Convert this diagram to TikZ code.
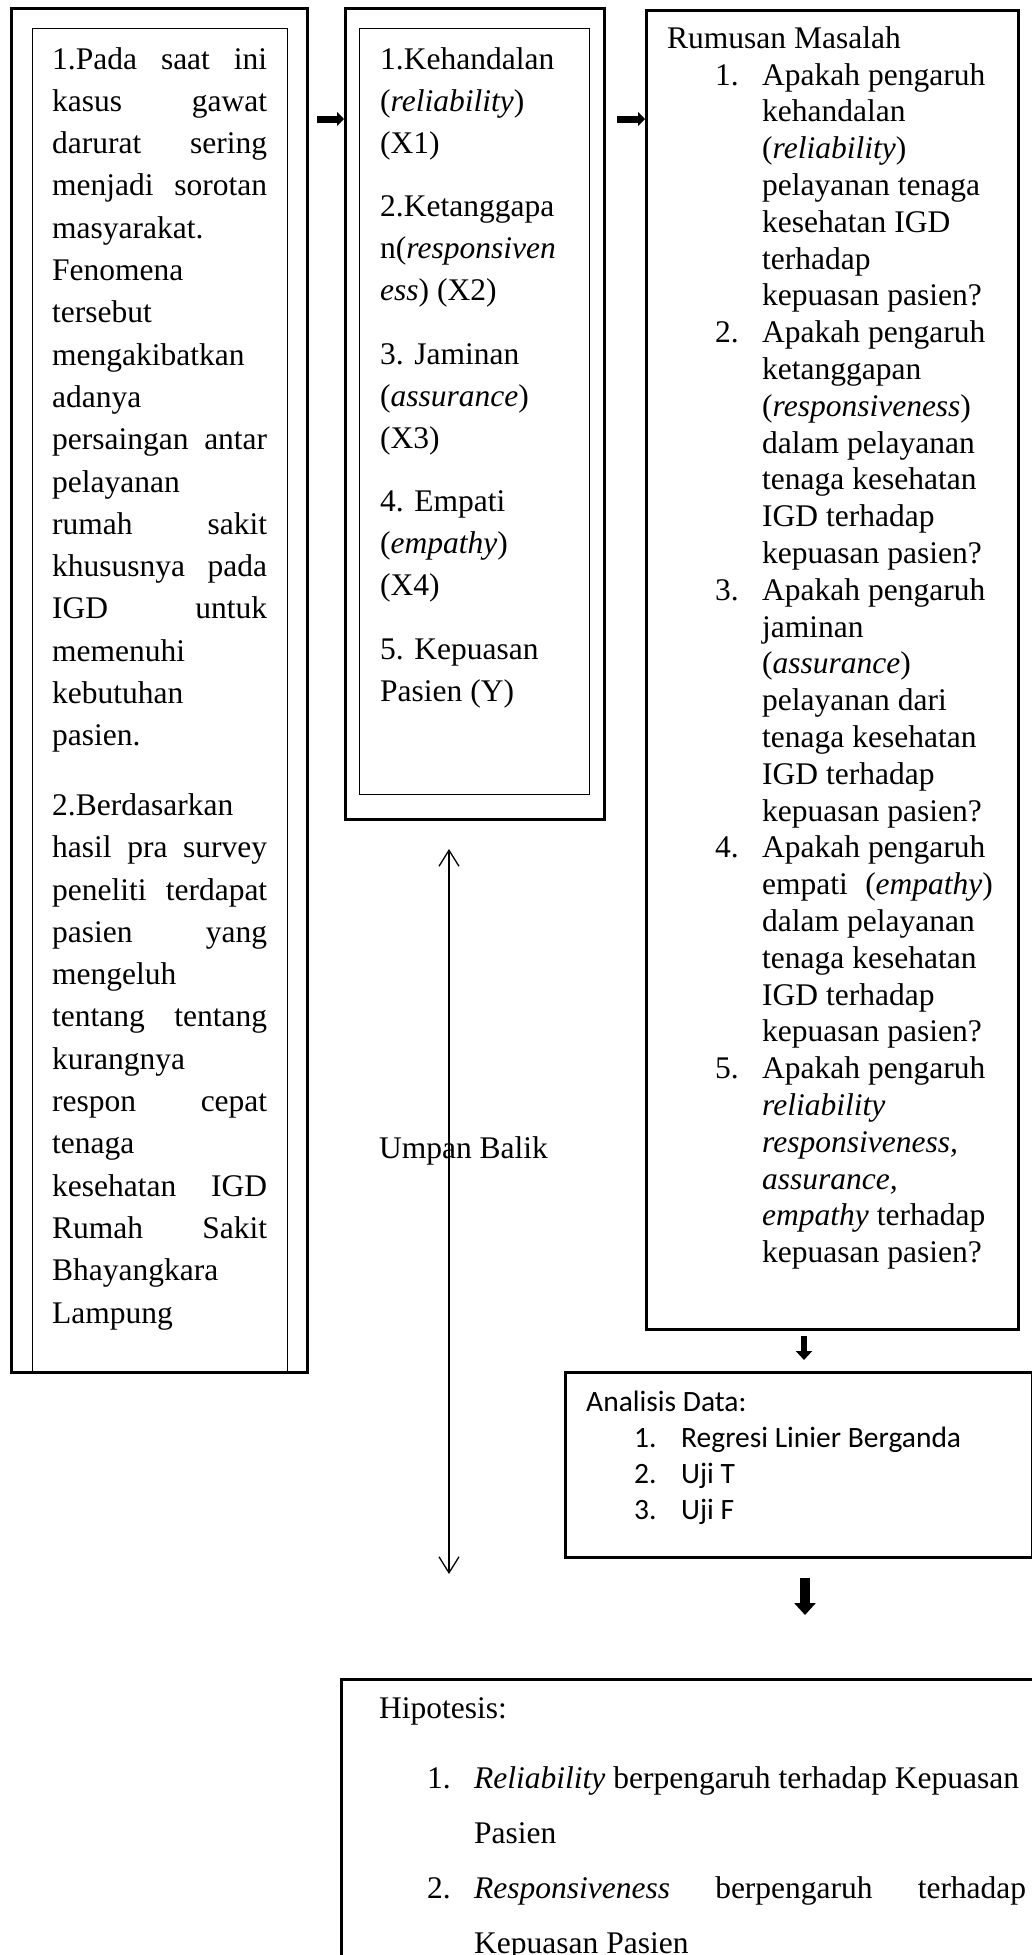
\documentclass[tikz,border=0pt]{standalone}
\usepackage{fontspec}
\setmainfont{Liberation Serif}
\newfontfamily\calibri{Carlito}
\usetikzlibrary{arrows.meta}
\newcommand\blk[4]{\vtop{\hsize=#1\parindent=0pt\parskip=0pt\lineskiplimit=-200pt\lineskip=0pt\fontsize{#2}{#3}\selectfont #4\par}}
\newcommand\jl[2][215pt]{\makebox[#1][s]{#2}\par}
\newcommand\itf[2]{\hspace*{48pt}\makebox[47pt][l]{#1}#2\par}
\newcommand\itc[1]{\hspace*{95pt}#1\par}
\begin{document}
\begin{tikzpicture}[x=1pt,y=-1pt,
  thickbox/.style={draw,line width=2.6pt,inner sep=0pt,anchor=north west},
  thinbox/.style={draw,line width=1.2pt,inner sep=0pt,anchor=north west},
  txt/.style={inner sep=0pt,anchor=base west},
  fatright/.style={line width=7pt,-{Triangle[length=7pt,width=14pt]}},
  fatdown/.style={line width=6pt,-{Triangle[length=9pt,width=16pt]}},
  bigdown/.style={line width=10pt,-{Triangle[length=12pt,width=21pt]}},
  feedback/.style={line width=1.3pt,{Straight Barb[length=16pt,width=20pt]}-{Straight Barb[length=16pt,width=20pt]}}]
\fill[white] (0,0) rectangle (1032,1955);
\clip (0,0) rectangle (1032,1955);
% boxes
\node[thickbox,minimum width=296pt,minimum height=1364pt] (lo) at (10,7) {};
\node[thinbox,minimum width=255pt,minimum height=1343pt] (li) at (32,28) {};
\node[thickbox,minimum width=259pt,minimum height=811pt] (mo) at (344,7) {};
\node[thinbox,minimum width=230pt,minimum height=766pt] (mi) at (359,28) {};
\node[thickbox,minimum width=372pt,minimum height=1319pt] (rum) at (645,9) {};
\node[thickbox,minimum width=467pt,minimum height=185pt] (ana) at (564,1371) {};
\node[thickbox,minimum width=730pt,minimum height=320pt] (hip) at (340,1678) {};
% left text
\node[txt] (lt) at (52,69) {\blk{215pt}{31.5}{42.3}{%
\jl{1.Pada saat ini}
\jl{kasus gawat}
\jl{darurat sering}
\jl{menjadi sorotan}
masyarakat.\par
Fenomena\par
tersebut\par
mengakibatkan\par
adanya\par
\jl{persaingan antar}
pelayanan\par
\jl{rumah sakit}
\jl{khususnya pada}
\jl{IGD untuk}
memenuhi\par
kebutuhan\par
pasien.\par
\vspace{27.3pt}
2.Berdasarkan\par
\jl{hasil pra survey}
\jl{peneliti terdapat}
\jl{pasien yang}
mengeluh\par
\jl{tentang tentang}
kurangnya\par
\jl{respon cepat}
tenaga\par
\jl{kesehatan IGD}
\jl{Rumah Sakit}
Bhayangkara\par
Lampung}};
% middle text
\node[txt] (mt) at (380,69) {\blk{210pt}{31.5}{42}{%
1.Kehandalan\par
(\emph{reliability})\par
(X1)\par
\vspace{21.5pt}
2.Ketanggapa\par
n(\emph{responsiven}\par
\emph{ess}) (X2)\par
\vspace{21.5pt}
3. Jaminan\par
(\emph{assurance})\par
(X3)\par
\vspace{21.5pt}
4. Empati\par
(\emph{empathy})\par
(X4)\par
\vspace{21.5pt}
5. Kepuasan\par
Pasien (Y)}};
% rumusan text
\node[txt] (rt) at (667,48.2) {\blk{400pt}{31.5}{36.8}{%
Rumusan Masalah\par
\itf{1.}{Apakah pengaruh}
\itc{kehandalan}
\itc{(\emph{reliability})}
\itc{pelayanan tenaga}
\itc{kesehatan IGD}
\itc{terhadap}
\itc{kepuasan pasien?}
\itf{2.}{Apakah pengaruh}
\itc{ketanggapan}
\itc{(\emph{responsiveness})}
\itc{dalam pelayanan}
\itc{tenaga kesehatan}
\itc{IGD terhadap}
\itc{kepuasan pasien?}
\itf{3.}{Apakah pengaruh}
\itc{jaminan}
\itc{(\emph{assurance})}
\itc{pelayanan dari}
\itc{tenaga kesehatan}
\itc{IGD terhadap}
\itc{kepuasan pasien?}
\itf{4.}{Apakah pengaruh}
\itc{empati\hspace{0.55em}(\emph{empathy})}
\itc{dalam pelayanan}
\itc{tenaga kesehatan}
\itc{IGD terhadap}
\itc{kepuasan pasien?}
\itf{5.}{Apakah pengaruh}
\itc{\emph{reliability}}
\itc{\emph{responsiveness,}}
\itc{\emph{assurance,}}
\itc{\emph{empathy} terhadap}
\itc{kepuasan pasien?}}};
% analisis text
\node[txt] (at) at (586,1411) {\calibri\blk{440pt}{29.5}{36}{%
Analisis Data:\par
\itf{1.}{Regresi Linier Berganda}
\itf{2.}{Uji T}
\itf{3.}{Uji F}}};
% hipotesis text
\node[txt] (ht) at (379,1718) {\fontsize{31.5}{36}\selectfont Hipotesis:};
\node[txt] (hl) at (379,1788) {\blk{660pt}{31.5}{55}{%
\itf{1.}{\emph{Reliability} berpengaruh terhadap Kepuasan}
\itc{Pasien}
\hspace*{48pt}\makebox[47pt][l]{2.}\makebox[552pt][s]{\emph{Responsiveness} berpengaruh terhadap}\par
\itc{Kepuasan Pasien}}};
% connectors
\coordinate (a1s) at (317,119);
\draw[fatright] (a1s) -- (mo.west |- a1s);
\coordinate (a2s) at (617,119);
\draw[fatright] (a2s) -- (rum.west |- a2s);
\coordinate (d1s) at (804,1336);
\coordinate (d1e) at (804,1360);
\draw[fatdown] (d1s) -- (d1e);
\coordinate (d2s) at (805,1578);
\coordinate (d2e) at (805,1615);
\draw[bigdown] (d2s) -- (d2e);
\coordinate (fbt) at (449,849);
\coordinate (fbb) at (449,1574);
\draw[feedback] (fbt) -- (fbb);
\node[txt,anchor=base] (ub) at (463.5,1158) {\fontsize{31.5}{36}\selectfont Umpan Balik};
\end{tikzpicture}
\end{document}
